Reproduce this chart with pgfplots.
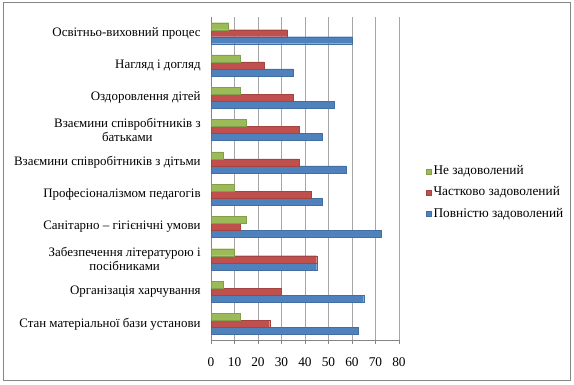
\documentclass[border=0pt]{standalone}
\usepackage{fontspec}
\setmainfont{Liberation Serif}
\usepackage{pgfplots}
\pgfplotsset{compat=1.18}
\definecolor{cblue}{HTML}{4F81BD}
\definecolor{cred}{HTML}{C0504D}
\definecolor{cgreen}{HTML}{9BBB59}
\definecolor{cgrid}{HTML}{A6A6A6}
\definecolor{caxis}{HTML}{868686}
\begin{document}
\begin{tikzpicture}
\path[use as bounding box] (0,0) rectangle (430.5pt,288.75pt);
\draw[caxis, line width=0.75pt] (2.25pt,3pt) rectangle (427.5pt,286.5pt);
\begin{axis}[
  at={(158.25pt,33.75pt)}, anchor=south west,
  scale only axis, width=141pt, height=242.25pt,
  xbar=0pt, bar width=5.25pt,
  xmin=0, xmax=80, ymin=-0.5, ymax=9.5,
  axis lines=left, axis line style={-, caxis},
  xtick={0,10,...,80},
  xmajorgrids, grid style={cgrid, line width=0.6pt},
  ytick={0,...,9},
  minor ytick={-0.5,0.5,...,9.5},
  yticklabels={Стан матеріальної бази установи, Організація харчування, {Забезпечення літературою і\\посібниками}, Санітарно – гігієнічні умови, Професіоналізмом педагогів, Взаємини співробітників з дітьми, {Взаємини співробітників з\\батьками}, Оздоровлення дітей, Нагляд і догляд, Освітньо-виховний процес},
  tick align=outside,
  major tick length=3pt,
  minor tick length=3pt,
  ytick style={draw=none},
  minor tick style={caxis, draw=caxis},
  xtick style={caxis},
  tick label style={font=\fontsize{9.7}{10.5}\selectfont, /pgf/number format/assume math mode=true},
  yticklabel style={align=center, xshift=-1.25pt},
  xticklabel style={yshift=-6.5pt, font=\fontsize{10}{10.5}\selectfont},
  legend style={at={(1.14,0.549)}, anchor=north west, draw=none, fill=none,
    font=\fontsize{10}{12}\selectfont, row sep=3.6pt, inner sep=0pt,
    /tikz/every even column/.append style={column sep=0pt}},
  legend cell align=left,
  reverse legend,
  legend image code/.code={\fill[#1] (0pt,-1.9pt) rectangle (3.8pt,1.9pt);},
]
\addplot[fill=cblue, draw=cblue!85!black, line width=0.2pt] coordinates {(62.5,0) (65,1) (45,2) (72.5,3) (47.5,4) (57.5,5) (47.5,6) (52.5,7) (35,8) (60,9)};
\addplot[fill=cred, draw=cred!85!black, line width=0.2pt] coordinates {(25,0) (30,1) (45,2) (12.5,3) (42.5,4) (37.5,5) (37.5,6) (35,7) (22.5,8) (32.5,9)};
\addplot[fill=cgreen, draw=cgreen!85!black, line width=0.2pt] coordinates {(12.5,0) (5,1) (10,2) (15,3) (10,4) (5,5) (15,6) (12.5,7) (12.5,8) (7.5,9)};
\legend{Повністю задоволений, Частково задоволений, Не задоволений}
\end{axis}
\end{tikzpicture}
\end{document}
